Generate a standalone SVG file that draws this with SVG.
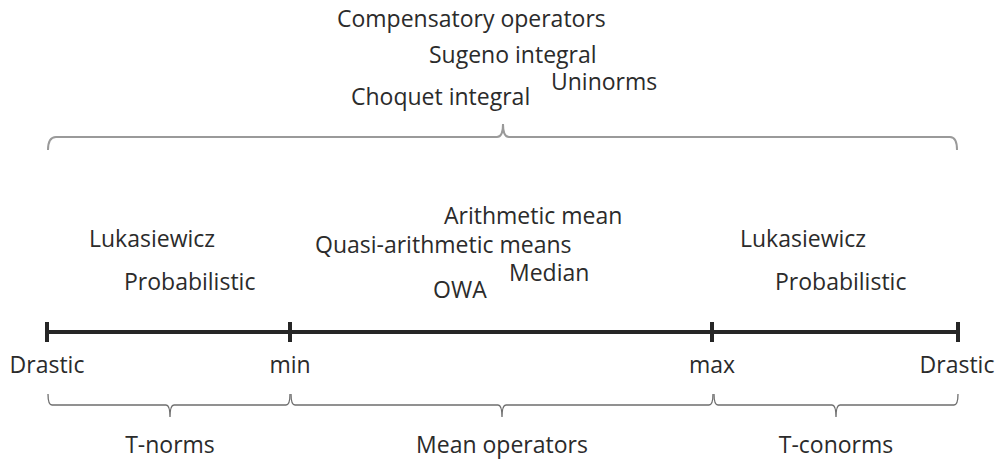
<svg xmlns="http://www.w3.org/2000/svg" width="1000" height="465" viewBox="0 0 1000 465">
  <style>
    .lbl { font-family: "Open Sans", "Liberation Sans", sans-serif; font-size: 23px; fill: #2b2b2b; }
    .mid { text-anchor: middle; }
    .axis { stroke: #262626; stroke-width: 4; fill: none; }
    .tick { stroke: #262626; stroke-width: 4; fill: none; }
    .brace { stroke: #6e6e6e; stroke-width: 1.3; fill: none; }
    .brace-top { stroke: #9a9a9a; stroke-width: 2; fill: none; }
  </style>
  <rect width="1000" height="465" fill="#ffffff"/>

  <!-- braces and axis -->
  <g id="connectors">
    <!-- brace over all operators -->
    <path class="brace-top" d="M48,150 Q48,137 56,137 L497,137 Q503,137 503,124 Q503,137 509,137 L950,137 Q957,137 957,150"/>
    <!-- scale axis -->
    <line class="axis" x1="47" y1="332" x2="958" y2="332"/>
    <line class="tick" x1="47" y1="322" x2="47" y2="342"/>
    <line class="tick" x1="290" y1="322" x2="290" y2="342"/>
    <line class="tick" x1="712" y1="322" x2="712" y2="342"/>
    <line class="tick" x1="958" y1="322" x2="958" y2="342"/>
    <!-- range braces below axis -->
    <path class="brace" d="M48,394 Q48,405 52,405 L166,405 Q170,405 170,417 Q170,405 174,405 L286,405 Q290,405 290,394"/>
    <path class="brace" d="M291,394 Q291,405 295,405 L498,405 Q502,405 502,417 Q502,405 506,405 L709,405 Q713,405 713,394"/>
    <path class="brace" d="M714,394 Q714,405 718,405 L832,405 Q836,405 836,417 Q836,405 840,405 L954,405 Q958,405 958,394"/>
  </g>

  <g id="top-labels">
    <text class="lbl" x="337" y="27">Compensatory operators</text>
    <text class="lbl" x="429" y="63">Sugeno integral</text>
    <text class="lbl" x="551" y="90">Uninorms</text>
    <text class="lbl" x="351" y="105">Choquet integral</text>
  </g>

  <g id="tnorm-examples">
    <text class="lbl" x="89" y="247">Lukasiewicz</text>
    <text class="lbl" x="124" y="290">Probabilistic</text>
  </g>

  <g id="mean-examples">
    <text class="lbl" x="444" y="224">Arithmetic mean</text>
    <text class="lbl" x="315" y="253">Quasi-arithmetic means</text>
    <text class="lbl" x="509" y="281">Median</text>
    <text class="lbl" x="433" y="298">OWA</text>
  </g>

  <g id="tconorm-examples">
    <text class="lbl" x="740" y="247">Lukasiewicz</text>
    <text class="lbl" x="775" y="290">Probabilistic</text>
  </g>

  <g id="axis-labels">
    <text class="lbl mid" x="47" y="373">Drastic</text>
    <text class="lbl mid" x="290" y="373">min</text>
    <text class="lbl mid" x="712" y="373">max</text>
    <text class="lbl mid" x="957" y="373">Drastic</text>
  </g>

  <g id="range-labels">
    <text class="lbl mid" x="170" y="453">T-norms</text>
    <text class="lbl mid" x="502" y="453">Mean operators</text>
    <text class="lbl mid" x="836" y="453">T-conorms</text>
  </g>
</svg>
